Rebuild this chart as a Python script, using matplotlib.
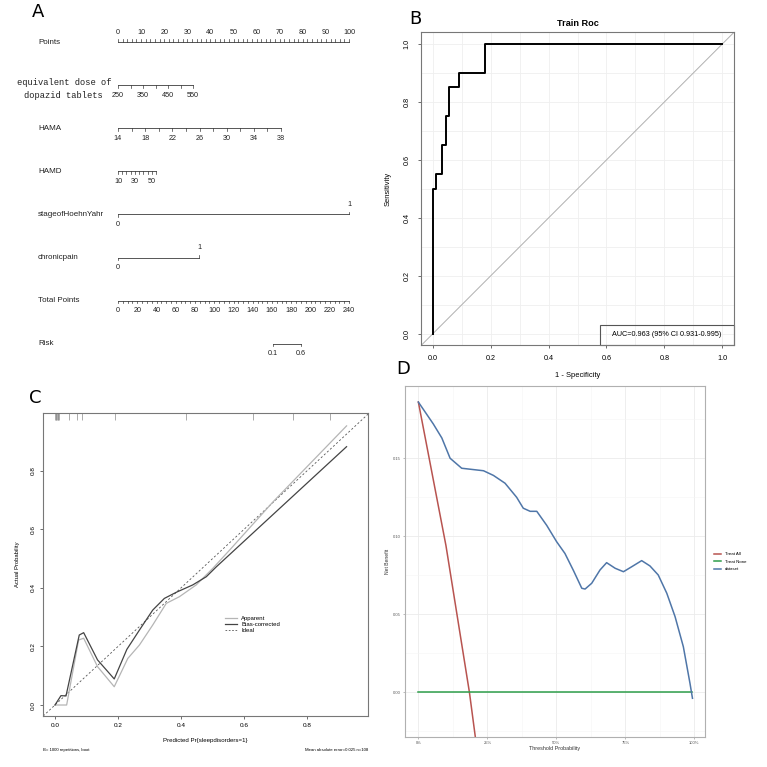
import numpy as np
import matplotlib
matplotlib.use('Agg')
import matplotlib.pyplot as plt
from matplotlib.patches import Rectangle
from matplotlib.lines import Line2D
from matplotlib.ticker import MultipleLocator

plt.rcParams['font.family'] = ['Liberation Sans', 'DejaVu Sans']

W = H = 767

# ---------------- A: nomogram ----------------
points_ticks = list(range(0, 101, 2))
points_labels = list(range(0, 101, 10))
dose_range = (250, 550)
dose_max_pts = 32.5
dose_ticks = [250, 300, 350, 400, 450, 500, 550]
dose_labels = [250, 350, 450, 550]
hama_range = (14, 38)
hama_max_pts = 70.6
hama_ticks = list(range(14, 39, 2))
hama_labels = [14, 18, 22, 26, 30, 34, 38]
hamd_range = (10, 55)
hamd_max_pts = 16.5
hamd_ticks = list(range(10, 56, 5))
hamd_labels = [10, 30, 50]
stage_max_pts = 100.0
chronic_max_pts = 35.1
total_max = 240
total_ticks = list(range(0, 241, 5))
total_labels = list(range(0, 241, 20))
risk_labels = ['0.1', '0.6']
risk_total_pts = [161, 190]

# ---------------- B: ROC ----------------
roc_fpr = [0, 0, 0.011, 0.011, 0.032, 0.032, 0.046, 0.046, 0.058, 0.058,
           0.092, 0.092, 0.182, 0.182, 1.0]
roc_tpr = [0, 0.5, 0.5, 0.55, 0.55, 0.65, 0.65, 0.75, 0.75, 0.85,
           0.85, 0.9, 0.9, 1.0, 1.0]
auc, auc_lo, auc_hi = 0.963, 0.931, 0.995

# ---------------- C: calibration ----------------
app_x = [0, 0.037, 0.075, 0.091, 0.135, 0.188, 0.231, 0.268, 0.310, 0.353,
         0.395, 0.448, 0.501, 0.554, 0.692, 0.925]
app_y = [0, 0, 0.222, 0.228, 0.131, 0.0625, 0.159, 0.205, 0.273, 0.347,
         0.370, 0.410, 0.467, 0.529, 0.694, 0.953]
bc_x = [0, 0.019, 0.035, 0.077, 0.091, 0.135, 0.188, 0.228, 0.268, 0.310,
        0.347, 0.385, 0.437, 0.480, 0.512, 0.925]
bc_y = [0, 0.032, 0.031, 0.239, 0.247, 0.154, 0.089, 0.190, 0.256, 0.324,
        0.364, 0.385, 0.410, 0.438, 0.472, 0.882]
rug_x = [0, 0.002, 0.004, 0.006, 0.008, 0.010, 0.012, 0.045, 0.07, 0.087,
         0.19, 0.417, 0.627, 0.755, 0.872]

# ---------------- D: decision curve ----------------
dca_x = [0, 0.054, 0.085, 0.115, 0.157, 0.236, 0.272, 0.314, 0.356, 0.380,
         0.405, 0.429, 0.465, 0.501, 0.531, 0.562, 0.592, 0.604, 0.628, 0.658,
         0.682, 0.713, 0.743, 0.773, 0.809, 0.839, 0.869, 0.90, 0.930, 0.960,
         0.984, 0.993]
dca_y = [0.186, 0.172, 0.163, 0.150, 0.1436, 0.142, 0.139, 0.134, 0.125, 0.118,
         0.116, 0.116, 0.107, 0.0965, 0.089, 0.078, 0.0667, 0.0662, 0.0699, 0.0784,
         0.0831, 0.0795, 0.0773, 0.0805, 0.0844, 0.081, 0.0752, 0.0635, 0.0485, 0.0292,
         0.0058, -0.0038]
all_x = [0, 0.1, 0.185, 0.25]
all_y = [0.186, 0.094, 0.0, -0.087]
none_x = [0, 0.99]
none_y = [0, 0]


def px_box(l, t, r, b):
    return [l / W, 1 - b / H, (r - l) / W, (b - t) / H]


fig = plt.figure(figsize=(7.67, 7.67), dpi=100)
fig.patch.set_facecolor('white')

# ======== panel A ========
PX_PER_PT = 2.31
X0 = 118
ROW_Y0 = 42
ROW_DY = 43.1
axA = fig.add_axes(px_box(0, 0, 383, 383))
axA.set_xlim(-X0 / PX_PER_PT, (383 - X0) / PX_PER_PT)
axA.set_ylim((383 - ROW_Y0) / ROW_DY, -ROW_Y0 / ROW_DY)
axA.axis('off')

TL = 2.6 / ROW_DY      # tick length
LO = 10.0 / ROW_DY     # label offset
LC = '#3a3a3a'
TFS = 5.2


def to_pts(v, rng, pmax):
    return (v - rng[0]) / (rng[1] - rng[0]) * pmax


def scale(row, ticks, labels, below=True):
    d = 1 if below else -1
    axA.plot([min(ticks), max(ticks)], [row, row], color=LC, lw=0.6)
    for t in ticks:
        axA.plot([t, t], [row, row + d * TL], color=LC, lw=0.5)
    for x, s in labels:
        axA.text(x, row + d * LO, s, ha='center', va='center', fontsize=TFS, color='#222')


def row_label(row, s):
    axA.text((38 - X0) / PX_PER_PT, row, s, ha='left', va='center', fontsize=5.8, color='#222')


# Points
row_label(0, 'Points')
scale(0, points_ticks, [(p, str(p)) for p in points_labels], below=False)

# dose
scale(1, [to_pts(v, dose_range, dose_max_pts) for v in dose_ticks],
      [(to_pts(v, dose_range, dose_max_pts), str(v)) for v in dose_labels])
axA.text((111 - X0) / PX_PER_PT, 1 + 4 / ROW_DY, 'equivalent dose of\ndopazid tablets',
         ha='right', va='center', multialignment='center', fontsize=6.3,
         family=['Liberation Mono', 'DejaVu Sans Mono'], linespacing=1.5, color='#222')

# HAMA
row_label(2, 'HAMA')
scale(2, [to_pts(v, hama_range, hama_max_pts) for v in hama_ticks],
      [(to_pts(v, hama_range, hama_max_pts), str(v)) for v in hama_labels])

# HAMD
row_label(3, 'HAMD')
scale(3, [to_pts(v, hamd_range, hamd_max_pts) for v in hamd_ticks],
      [(to_pts(v, hamd_range, hamd_max_pts), str(v)) for v in hamd_labels])

# binary variables
for row, name, pmax in [(4, 'stageofHoehnYahr', stage_max_pts), (5, 'chronicpain', chronic_max_pts)]:
    row_label(row, name)
    axA.plot([0, pmax], [row, row], color=LC, lw=0.6)
    axA.plot([0, 0], [row, row + TL], color=LC, lw=0.5)
    axA.plot([pmax, pmax], [row, row - TL], color=LC, lw=0.5)
    axA.text(0, row + LO, '0', ha='center', va='center', fontsize=TFS, color='#222')
    axA.text(pmax, row - LO, '1', ha='center', va='center', fontsize=TFS, color='#222')

# Total points
tp = lambda v: v * 100.0 / total_max
row_label(6, 'Total Points')
scale(6, [tp(v) for v in total_ticks], [(tp(v), str(v)) for v in total_labels])

# Risk
row_label(7, 'Risk')
scale(7, [tp(v) for v in risk_total_pts], [(tp(v), s) for v, s in zip(risk_total_pts, risk_labels)])

# ======== panel B ========
axB = fig.add_axes(px_box(421, 32, 734, 345))
axB.set_xlim(-0.04, 1.04)
axB.set_ylim(-0.038, 1.041)
axB.xaxis.set_major_locator(MultipleLocator(0.2))
axB.yaxis.set_major_locator(MultipleLocator(0.2))
axB.xaxis.set_minor_locator(MultipleLocator(0.1))
axB.yaxis.set_minor_locator(MultipleLocator(0.1))
axB.grid(True, which='both', color='#efefef', lw=0.6)
axB.set_axisbelow(True)
axB.axline((0, 0), (1, 1), color='#b0b0b0', lw=0.7)
axB.plot(roc_fpr, roc_tpr, color='black', lw=1.4)
for s in axB.spines.values():
    s.set_color('#777777')
    s.set_linewidth(0.8)
axB.tick_params(which='major', length=2.5, width=0.6, color='#555', labelsize=5.2, pad=5)
axB.tick_params(which='minor', length=0)
axB.tick_params(axis='y', labelrotation=90)
for lab in axB.get_yticklabels():
    lab.set_va('center')
axB.set_title('Train Roc', fontsize=6.6, fontweight='bold', pad=4)
axB.set_xlabel('1 - Specificity', fontsize=5.4)
axB.set_ylabel('Sensitivity', fontsize=5.4)
axB.xaxis.set_label_coords(0.5, -0.085)
axB.yaxis.set_label_coords(-0.095, 0.5)
axB.add_patch(Rectangle((0.572, 0), 0.428, 0.064, transform=axB.transAxes,
                        fill=False, ec='#555', lw=0.8, clip_on=False))
axB.text(0.786, 0.032, f'AUC={auc:.3f} (95% CI {auc_lo:.3f}-{auc_hi:.3f})',
         transform=axB.transAxes, ha='center', va='center', fontsize=5.2)

# ======== panel C ========
axC = fig.add_axes(px_box(43, 413, 368, 716))
axC.set_xlim(-0.038, 0.993)
axC.set_ylim(-0.0375, 0.997)
axC.axline((0, 0), (1, 1), color='#555', lw=0.6, ls=(0, (2.5, 2.5)))
axC.plot(app_x, app_y, color='#b5b5b5', lw=0.9, solid_joinstyle='round')
axC.plot(bc_x, bc_y, color='#444444', lw=0.9, solid_joinstyle='round')
axC.vlines(rug_x, 0.978, 1.0, transform=axC.get_xaxis_transform(), color='#8a8a8a', lw=0.5)
axC.set_xticks([0, 0.2, 0.4, 0.6, 0.8])
axC.set_yticks([0, 0.2, 0.4, 0.6, 0.8])
axC.xaxis.set_major_formatter(lambda v, p: f'{v:.1f}')
axC.yaxis.set_major_formatter(lambda v, p: f'{v:.1f}')
for s in axC.spines.values():
    s.set_color('#777777')
    s.set_linewidth(0.8)
axC.tick_params(length=2.2, width=0.6, color='#555', labelsize=4.6, pad=3)
axC.tick_params(axis='y', labelrotation=90)
for lab in axC.get_yticklabels():
    lab.set_va('center')
axC.set_xlabel('Predicted Pr{sleepdisorders=1}', fontsize=4.4)
axC.set_ylabel('Actual Probability', fontsize=4.2)
axC.xaxis.set_label_coords(0.5, -0.072)
axC.yaxis.set_label_coords(-0.072, 0.5)
hC = [Line2D([], [], color='#b5b5b5', lw=0.9),
      Line2D([], [], color='#444444', lw=0.9),
      Line2D([], [], color='#555', lw=0.6, ls=(0, (2, 2)))]
axC.legend(hC, ['Apparent', 'Bias-corrected', 'Ideal'], loc='upper left',
           bbox_to_anchor=(0.561, 0.33), frameon=False, fontsize=4.3,
           handlelength=2.0, handletextpad=0.7, labelspacing=0.15,
           borderpad=0, borderaxespad=0)
fig.text(43 / W, 1 - 750 / H, 'B= 1000 repetitions, boot', fontsize=3.1, va='center', ha='left')
fig.text(368 / W, 1 - 750 / H, 'Mean absolute error=0.025 n=108', fontsize=3.1, va='center', ha='right')

# ======== panel D ========
axD = fig.add_axes(px_box(404.7, 386, 705.3, 737.3))
axD.set_xlim(-0.0495, 1.0395)
axD.set_ylim(-0.0288, 0.1963)
axD.set_xticks([0, 0.25, 0.5, 0.75, 1.0])
axD.set_xticklabels(['0%', '25%', '50%', '75%', '100%'])
axD.set_yticks([0, 0.05, 0.10, 0.15])
axD.set_yticklabels(['0.00', '0.05', '0.10', '0.15'])
axD.xaxis.set_minor_locator(MultipleLocator(0.125))
axD.yaxis.set_minor_locator(MultipleLocator(0.025))
axD.grid(True, which='major', color='#ebebeb', lw=0.6)
axD.grid(True, which='minor', color='#f5f5f5', lw=0.4)
axD.set_axisbelow(True)
axD.plot(all_x, all_y, color='#b85450', lw=1.1, label='Treat All')
axD.plot(none_x, none_y, color='#2e9e4a', lw=1.1, label='Treat None')
axD.plot(dca_x, dca_y, color='#4f76a8', lw=1.1, label='dataset', solid_joinstyle='round')
for s in axD.spines.values():
    s.set_color('#b0b0b0')
    s.set_linewidth(0.8)
axD.tick_params(which='major', length=1.5, width=0.4, color='#888', labelsize=3.0,
                labelcolor='#555', pad=1.2)
axD.tick_params(which='minor', length=0)
axD.set_xlabel('Threshold Probability', fontsize=3.9, color='#333', labelpad=1)
axD.set_ylabel('Net Benefit', fontsize=3.6, color='#333', labelpad=1)
axD.yaxis.set_label_coords(-0.05, 0.5)
axD.legend(loc='upper left', bbox_to_anchor=(1.03, 0.527), frameon=False, fontsize=3.2,
           handlelength=1.5, handletextpad=0.8, labelspacing=0.75,
           borderpad=0, borderaxespad=0)

# panel letters
letter_font = ['Liberation Sans Narrow', 'DejaVu Sans']
for s, x, y in [('A', 38.5, 12), ('B', 415.5, 18.5), ('C', 35, 398), ('D', 403, 369.5)]:
    fig.text(x / W, 1 - y / H, s, fontsize=13, family=letter_font, ha='center', va='center')

fig.savefig('out.png', dpi=100)
